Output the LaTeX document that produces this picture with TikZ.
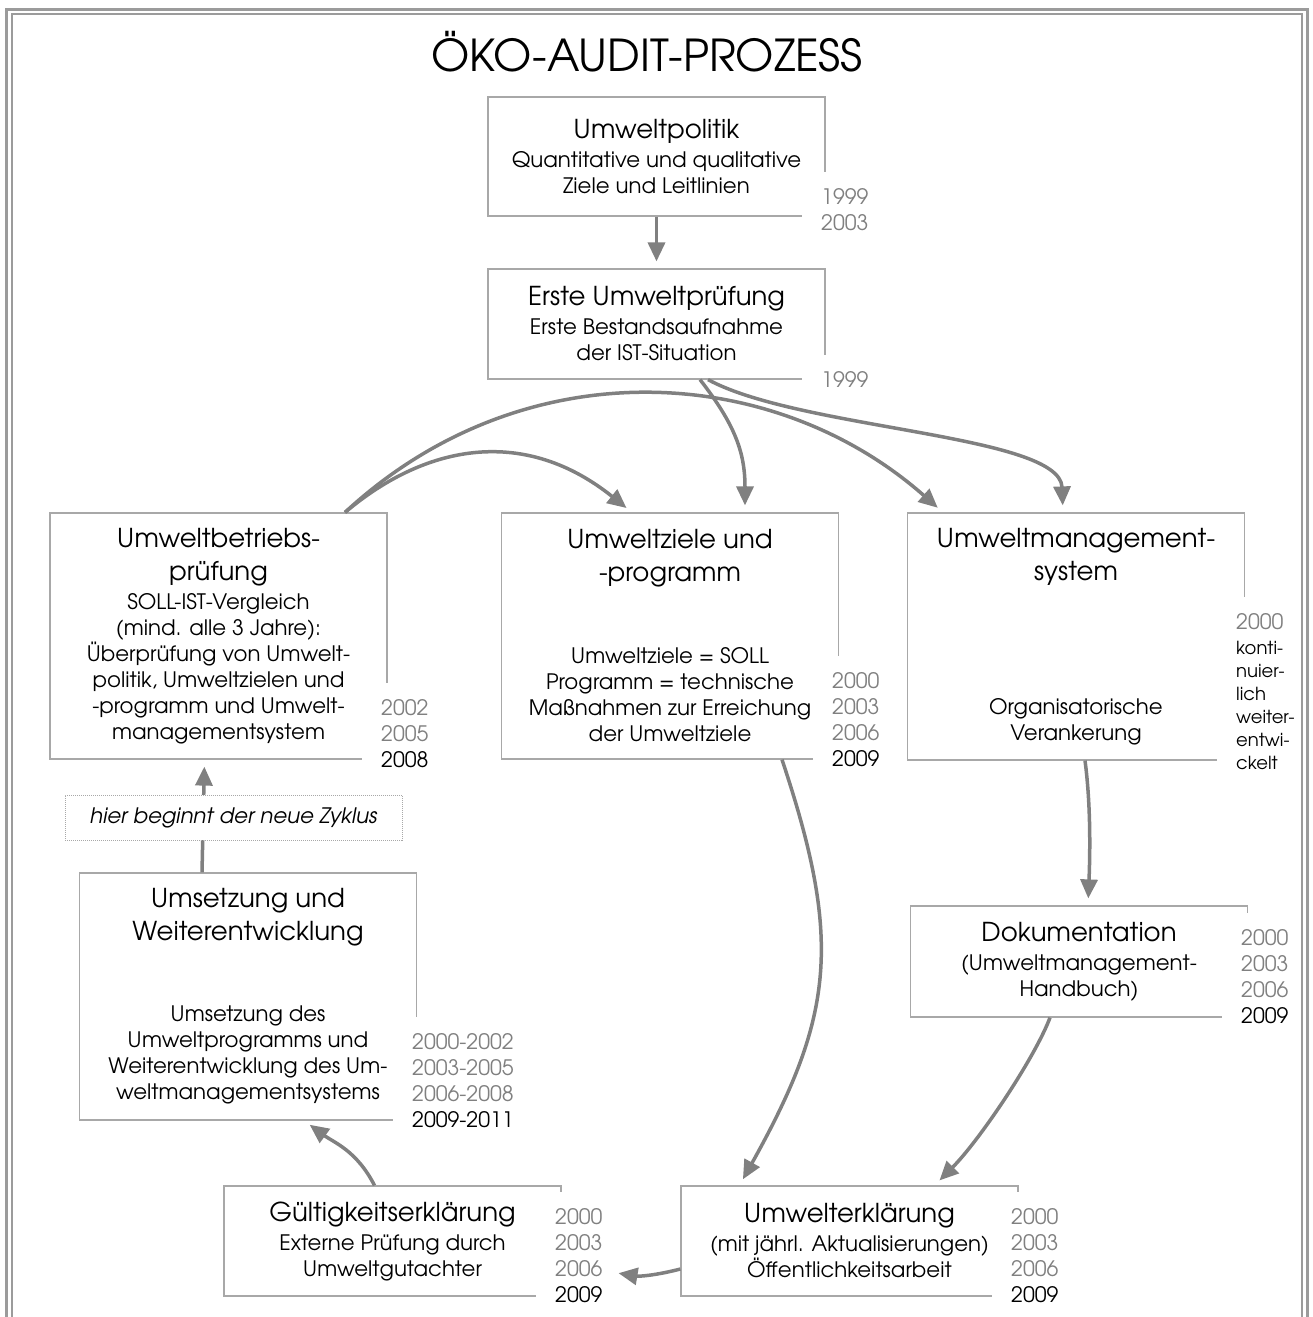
\documentclass[tikz,border=0pt]{standalone}
\usepackage{fontspec}
\setmainfont{texgyreadventor}[Extension=.otf, UprightFont=*-regular, ItalicFont=*-italic, BoldFont=*-bold, BoldItalicFont=*-bolditalic]
\usepackage{tikz}
\usetikzlibrary{arrows.meta}
\usepackage{xcolor}
\definecolor{boxgray}{RGB}{168,168,168}
\definecolor{yrgray}{RGB}{128,128,128}
\definecolor{arrowgray}{RGB}{128,128,128}
\definecolor{framegray}{RGB}{155,155,155}
\newcommand\boxhead{\fontsize{26}{33}\selectfont}
\newcommand\bodyfont{\fontsize{21.3}{26}\selectfont}
\newcommand\sidefont{\fontsize{18}{23}\selectfont}
\tikzset{
  stage/.style={draw=boxgray, line width=1.2pt, fill=white, align=center, inner sep=0pt, minimum width=337pt, font=\bodyfont},
  years/.style={fill=white, anchor=north west, align=left, inner xsep=19pt, inner ysep=16pt, text=yrgray, font=\bodyfont},
  flow/.style={draw=arrowgray, line width=3.5pt, -{Triangle[length=19pt,width=17pt]}, shorten >=7pt},
}

\begin{document}
\begin{tikzpicture}[x=1pt, y=-1pt]
	\useasboundingbox (0,0) rectangle (1312,1317);
	\node[anchor=base] (title) at (647,71) {\fontsize{44}{50}\selectfont ÖKO-AUDIT-PROZESS};

	\node[stage, minimum height=119pt] (pol) at (656.5,156.5) {{\boxhead Umweltpolitik}\\[3pt]Quantitative und qualitative\\Ziele und Leitlinien};
	\node[stage, minimum height=110pt] (ersteup) at (656.5,324) {{\boxhead Erste Umweltprüfung}\\[3pt]Erste Bestandsaufnahme\\der IST-Situation};
	\node[stage, minimum height=246pt] (betrieb) at (218.5,636) {{\boxhead Umweltbetriebs-}\\[7pt]{\boxhead prüfung}\\[3pt]SOLL-IST-Vergleich\\(mind. alle 3 Jahre):\\Überprüfung von Umwelt-\\politik, Umweltzielen und\\-programm und Umwelt-\\managementsystem};
	\node[stage, minimum height=246pt] (ziele) at (670,636) {{\boxhead Umweltziele und}\\[7pt]{\boxhead -programm}\\[56pt]Umweltziele = SOLL\\Programm = technische\\Maßnahmen zur Erreichung\\der Umweltziele};
	\node[stage, minimum height=247pt] (ums) at (1076,636.5) {{\boxhead Umweltmanagement-}\\[7pt]{\boxhead system}\\[108pt]Organisatorische\\Verankerung};
	\node[stage, minimum height=247pt] (umsetz) at (248,996.5) {{\boxhead Umsetzung und}\\[7pt]{\boxhead Weiterentwicklung}\\[55pt]Umsetzung des\\Umweltprogramms und\\Weiterentwicklung des Um-\\weltmanagementsystems};
	\node[stage, minimum height=111pt] (doku) at (1079,961.5) {{\boxhead Dokumentation}\\[3pt](Umweltmanagement-\\Handbuch)};
	\node[stage, minimum height=110pt] (guelt) at (392.5,1241) {{\boxhead Gültigkeitserklärung}\\[3pt]Externe Prüfung durch\\Umweltgutachter};
	\node[stage, minimum height=110pt] (erkl) at (849.5,1241) {{\boxhead Umwelterklärung}\\[3pt](mit jährl. Aktualisierungen)\\Öffentlichkeitsarbeit};

	\node[years] (polyr) at (802,172) {1999\\2003};
	\node[years] (ersteyr) at (802,355) {1999};
	\node[years] (betriebyr) at (362,683) {2002\\2005\\{\color{black}2008}};
	\node[years] (zieleyr) at (813,656) {2000\\2003\\2006\\{\color{black}2009}};
	\node[years, font=\sidefont] (umsyr) at (1217,597) {{\bodyfont 2000}\\[2pt]{\color{black}konti-}\\{\color{black}nuier-}\\{\color{black}lich}\\{\color{black}weiter-}\\{\color{black}entwi-}\\{\color{black}ckelt}};
	\node[years] (umsetzyr) at (393,1017) {2000-2002\\2003-2005\\2006-2008\\{\color{black}2009-2011}};
	\node[years] (dokuyr) at (1222,913) {2000\\2003\\2006\\{\color{black}2009}};
	\node[years] (gueltyr) at (536,1192) {2000\\2003\\2006\\{\color{black}2009}};
	\node[years] (erklyr) at (992,1192) {2000\\2003\\2006\\{\color{black}2009}};

	\draw[flow] (pol) -- (ersteup);
	\draw[flow] ([xshift=43.5pt]ersteup.south) .. controls +(35,45) and +(0,-60) .. ([xshift=75pt]ziele.north);
	\draw[flow] ([xshift=51.5pt]ersteup.south) .. controls +(92,50) and +(-3,-78) .. ([xshift=-13pt]ums.north);
	\draw[flow] ([xshift=126.5pt]betrieb.north) .. controls +(178,-165) and +(-170,-150) .. ([xshift=-133pt]ums.north);
	\draw[flow] ([xshift=126.5pt]betrieb.north) .. controls +(83,-70) and +(-106,-85) .. ([xshift=-38pt]ziele.north);
	\draw[flow] ([xshift=9pt]ums.south) .. controls +(6,45) and +(2,-50) .. ([xshift=9pt]doku.north);
	\draw[flow] ([xshift=112pt]ziele.south) .. controls +(60,180) and +(95,-170) .. ([xshift=-110pt]erkl.north);
	\draw[flow] ([xshift=-29pt]doku.south) .. controls +(-15,40) and +(45,-45) .. ([xshift=85pt]erkl.north);
	\draw[flow] ([yshift=-28pt]erkl.west) to[bend left=12] ([xshift=50pt,yshift=-31pt]guelt.east);
	\draw[flow] ([xshift=-18pt]guelt.north) .. controls +(-18,-35) and +(30,22) .. ([xshift=56pt]umsetz.south);
	\draw[flow] ([xshift=-46pt]umsetz.north) -- ([xshift=-14pt]betrieb.south);

	\node[draw=boxgray, densely dotted, line width=1pt, fill=white, minimum width=337pt, minimum height=45pt, font=\bodyfont\itshape] (zyklus) at (233.5,817.5) {hier beginnt der neue Zyklus};

	\draw[framegray, line width=3pt] (6.5,1330) -- (6.5,9) -- (1307,9) -- (1307,1330);
	\draw[framegray, line width=2pt] (11.5,1330) -- (11.5,14) -- (1302,14) -- (1302,1330);
\end{tikzpicture}
\end{document}
